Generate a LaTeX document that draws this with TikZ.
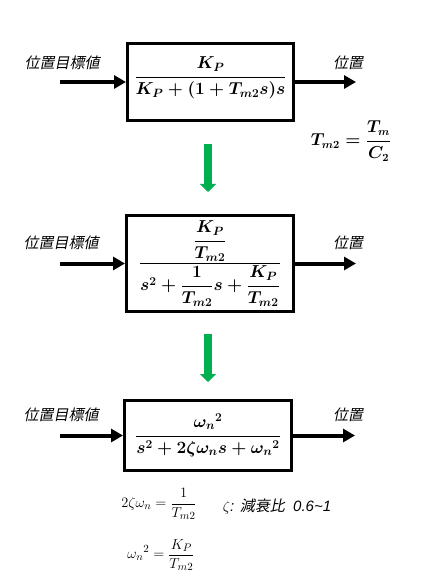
\documentclass[tikz,border=0pt]{standalone}
\usepackage{amsmath,bm}
\usepackage{fontspec}
\newfontfamily\cjk[FakeSlant=0.2]{Noto Sans CJK JP}
\newfontfamily\lsans{Liberation Sans}
\usetikzlibrary{arrows.meta}
\tikzset{
  box/.style={draw=black, line width=3pt, fill=white, inner sep=0pt},
  blk/.style={line width=4pt, -{Triangle[length=12pt,width=13pt]}},
  grn/.style={draw={rgb,255:red,0;green,176;blue,80}, line width=8pt, -{Triangle[length=8pt,width=16pt]}},
  lab/.style={font=\cjk\fontsize{15}{17}\selectfont, inner sep=0pt},
  fr/.style={font=\fontsize{17}{20}\selectfont\boldmath, inner sep=0pt},
  eq/.style={font=\fontsize{15.5}{18}\selectfont, inner sep=0pt}
}
\begin{document}
\begin{tikzpicture}[x=1pt,y=-1pt]
\useasboundingbox (0,0) rectangle (429,585);
% box 1
\node[box, minimum width=166pt, minimum height=77pt] (b1) at (210.5,82) {};
\node[fr] (f1) at (210.5,78) {$\displaystyle\frac{K_P}{K_P+(1+T_{m2}s)s}$};
\coordinate (i1) at (60,82);
\coordinate (o1) at (356,82);
\draw[blk] (i1) -- (b1.west);
\draw[blk] (b1.east) -- (o1);
\node[lab] (l1a) at (62,63) {位置目標値};
\node[lab] (l1b) at (348,63) {位置};
\node[font=\fontsize{16}{19}\selectfont\boldmath, inner sep=0pt] (tm) at (351,141) {$\displaystyle T_{m2} = \frac{T_m}{C_2}$};
% green arrow 1
\coordinate (g1s) at (208,144);
\coordinate (g1e) at (208,192);
\draw[grn] (g1s) -- (g1e);
% box 2
\node[box, minimum width=167pt, minimum height=96pt] (b2) at (210,263.5) {};
\node[fr] (f2) at (210,263.5) {$\displaystyle\frac{\dfrac{K_P}{T_{m2}}}{s^2+\dfrac{1}{T_{m2}}s+\dfrac{K_P}{T_{m2}}}$};
\coordinate (i2) at (60,263.5);
\coordinate (o2) at (356,263.5);
\draw[blk] (i2) -- (b2.west);
\draw[blk] (b2.east) -- (o2);
\node[lab] (l2a) at (61,243) {位置目標値};
\node[lab] (l2b) at (348,243) {位置};
% green arrow 2
\coordinate (g2s) at (208,334);
\coordinate (g2e) at (208,382);
\draw[grn] (g2s) -- (g2e);
% box 3
\node[box, minimum width=167pt, minimum height=70pt] (b3) at (208,435.5) {};
\node[fr] (f3) at (208,435) {$\displaystyle\frac{{\omega_n}^2}{s^2+2\zeta\omega_n s+{\omega_n}^2}$};
\coordinate (i3) at (60,435.5);
\coordinate (o3) at (355,435.5);
\draw[blk] (i3) -- (b3.west);
\draw[blk] (b3.east) -- (o3);
\node[lab] (l3a) at (61,415) {位置目標値};
\node[lab] (l3b) at (348,415) {位置};
% equations
\node[eq] (e1) at (159,504) {$\displaystyle 2\zeta\omega_n = \frac{1}{T_{m2}}$};
\node[eq, font=\fontsize{15}{17}\selectfont] (e2) at (277,507) {$\zeta$\lsans\itshape: {\cjk 減衰比}\ \ 0.6\textasciitilde1};
\node[eq] (e3) at (161,555) {$\displaystyle {\omega_n}^2 = \frac{K_P}{T_{m2}}$};
\end{tikzpicture}
\end{document}
